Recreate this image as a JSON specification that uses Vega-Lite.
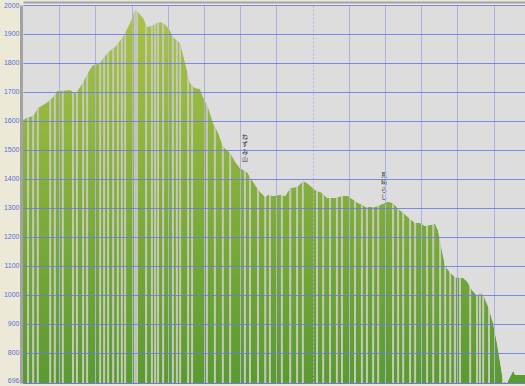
{
  "$schema": "https://vega.github.io/schema/vega-lite/v6.json",
  "width": 504,
  "height": 378,
  "autosize": {"type": "none"},
  "padding": {"left": 23, "top": 5, "right": 0, "bottom": 3},
  "background": "#ece9d8",
  "config": {"view": {"fill": "#dddddd", "stroke": "#6a7ae6", "strokeWidth": 1}},
  "datasets": {
    "profile": [
      {"km": 0, "elev": 1603}, {"km": 0.14, "elev": 1614}, {"km": 0.28, "elev": 1617}, {"km": 0.41, "elev": 1645},
      {"km": 0.55, "elev": 1655}, {"km": 0.69, "elev": 1666}, {"km": 0.83, "elev": 1683}, {"km": 0.94, "elev": 1703},
      {"km": 1.3, "elev": 1707}, {"km": 1.44, "elev": 1697}, {"km": 1.52, "elev": 1707}, {"km": 1.66, "elev": 1734},
      {"km": 1.85, "elev": 1779}, {"km": 1.93, "elev": 1793}, {"km": 2.1, "elev": 1797}, {"km": 2.18, "elev": 1810},
      {"km": 2.35, "elev": 1838}, {"km": 2.54, "elev": 1855}, {"km": 2.74, "elev": 1886}, {"km": 2.96, "elev": 1940},
      {"km": 3.09, "elev": 1983}, {"km": 3.18, "elev": 1976}, {"km": 3.32, "elev": 1955}, {"km": 3.43, "elev": 1924},
      {"km": 3.56, "elev": 1928}, {"km": 3.7, "elev": 1938}, {"km": 3.79, "elev": 1941}, {"km": 3.92, "elev": 1934},
      {"km": 4.06, "elev": 1914}, {"km": 4.14, "elev": 1890}, {"km": 4.34, "elev": 1869}, {"km": 4.48, "elev": 1800},
      {"km": 4.61, "elev": 1731}, {"km": 4.75, "elev": 1714}, {"km": 4.89, "elev": 1710}, {"km": 4.97, "elev": 1683},
      {"km": 5.11, "elev": 1648}, {"km": 5.25, "elev": 1593}, {"km": 5.39, "elev": 1559}, {"km": 5.53, "elev": 1510},
      {"km": 5.72, "elev": 1490}, {"km": 5.86, "elev": 1459}, {"km": 5.99, "elev": 1438}, {"km": 6.19, "elev": 1424},
      {"km": 6.27, "elev": 1407}, {"km": 6.41, "elev": 1379}, {"km": 6.55, "elev": 1355}, {"km": 6.69, "elev": 1338},
      {"km": 6.77, "elev": 1345}, {"km": 6.91, "elev": 1341}, {"km": 7.1, "elev": 1345}, {"km": 7.24, "elev": 1341},
      {"km": 7.38, "elev": 1369}, {"km": 7.57, "elev": 1372}, {"km": 7.74, "elev": 1393}, {"km": 7.87, "elev": 1383},
      {"km": 8.07, "elev": 1362}, {"km": 8.26, "elev": 1352}, {"km": 8.4, "elev": 1334}, {"km": 8.62, "elev": 1334},
      {"km": 8.81, "elev": 1341}, {"km": 8.98, "elev": 1341}, {"km": 9.12, "elev": 1328}, {"km": 9.25, "elev": 1317},
      {"km": 9.39, "elev": 1310}, {"km": 9.45, "elev": 1303}, {"km": 9.72, "elev": 1303}, {"km": 9.94, "elev": 1314},
      {"km": 10.08, "elev": 1321}, {"km": 10.22, "elev": 1317}, {"km": 10.36, "elev": 1297}, {"km": 10.5, "elev": 1283},
      {"km": 10.69, "elev": 1262}, {"km": 10.83, "elev": 1248}, {"km": 10.97, "elev": 1248}, {"km": 11.1, "elev": 1238},
      {"km": 11.24, "elev": 1241}, {"km": 11.38, "elev": 1245}, {"km": 11.46, "elev": 1224}, {"km": 11.55, "elev": 1165},
      {"km": 11.66, "elev": 1100}, {"km": 11.8, "elev": 1076}, {"km": 11.94, "elev": 1060}, {"km": 12.15, "elev": 1059},
      {"km": 12.27, "elev": 1045}, {"km": 12.4, "elev": 1017}, {"km": 12.54, "elev": 997}, {"km": 12.62, "elev": 1007},
      {"km": 12.71, "elev": 1000}, {"km": 12.85, "elev": 959}, {"km": 12.98, "elev": 903}, {"km": 13.09, "elev": 834},
      {"km": 13.18, "elev": 766}, {"km": 13.26, "elev": 700}, {"km": 13.37, "elev": 696}, {"km": 13.45, "elev": 717},
      {"km": 13.54, "elev": 738}, {"km": 13.59, "elev": 724}, {"km": 13.92, "elev": 724}
    ],
    "stripes": [
      {"km": 0.14}, {"km": 0.28}, {"km": 0.41}, {"km": 0.75}, {"km": 0.88}, {"km": 1.1}, {"km": 1.38}, {"km": 1.49},
      {"km": 1.66}, {"km": 1.77}, {"km": 2.13}, {"km": 2.24}, {"km": 2.35}, {"km": 2.49}, {"km": 2.62}, {"km": 2.73},
      {"km": 2.82}, {"km": 3.09}, {"km": 3.15}, {"km": 3.4}, {"km": 3.56}, {"km": 3.65}, {"km": 3.73}, {"km": 3.87},
      {"km": 4.14}, {"km": 4.25}, {"km": 4.34}, {"km": 4.56}, {"km": 4.67}, {"km": 5.08}, {"km": 5.3}, {"km": 5.52},
      {"km": 5.72}, {"km": 6.13}, {"km": 6.27}, {"km": 6.49}, {"km": 6.69}, {"km": 6.82}, {"km": 7.15}, {"km": 7.38},
      {"km": 7.57}, {"km": 7.73}, {"km": 8.12}, {"km": 8.29}, {"km": 8.48}, {"km": 8.67}, {"km": 8.81}, {"km": 9.17},
      {"km": 9.36}, {"km": 9.5}, {"km": 9.67}, {"km": 9.81}, {"km": 10.22}, {"km": 10.36}, {"km": 10.5}, {"km": 10.69},
      {"km": 10.83}, {"km": 11.16}, {"km": 11.33}, {"km": 11.52}, {"km": 11.66}, {"km": 11.8}, {"km": 11.93}, {"km": 12.07},
      {"km": 12.35}, {"km": 12.54}, {"km": 12.62}, {"km": 12.71}, {"km": 12.87}, {"km": 13.26}
    ],
    "labels": [
      {"km": 6.13, "elev": 1555, "label": "ね\nず\nみ\n山"},
      {"km": 9.97, "elev": 1424, "label": "見\n晴\nら\nし"}
    ]
  },
  "layer": [
    {
      "data": {"name": "profile"},
      "mark": {
        "type": "area",
        "color": {
          "gradient": "linear", "x1": 0, "y1": 0, "x2": 0, "y2": 1,
          "stops": [{"offset": 0, "color": "#abc246"}, {"offset": 1, "color": "#5a9a30"}]
        }
      },
      "encoding": {
        "x": {
          "field": "km", "type": "quantitative",
          "scale": {"domain": [0, 13.92], "nice": false},
          "axis": {
            "orient": "top", "offset": 3,
            "values": [1, 2, 3, 4, 5, 6, 7, 8, 9, 10, 11, 12, 13], "tickCount": 30,
            "grid": true, "gridColor": "#aab3de", "gridWidth": 1, "zindex": 1,
            "gridDash": {"condition": {"test": "datum.value === 8", "value": [2, 2]}, "value": []},
            "labels": false, "ticks": false,
            "domain": true, "domainColor": "#a3a3a3", "domainWidth": 2,
            "title": null
          }
        },
        "y": {
          "field": "elev", "type": "quantitative",
          "scale": {"domain": [696, 2000], "nice": false, "zero": false},
          "axis": {
            "values": [696, 800, 900, 1000, 1100, 1200, 1300, 1400, 1500, 1600, 1700, 1800, 1900, 2000], "tickCount": 30,
            "format": "d", "labelOverlap": false, "labelBound": false, "labelFlush": false,
            "labelBaseline": {"condition": {"test": "datum.value === 696", "value": "bottom"}, "value": "middle"},
            "grid": true, "gridColor": "#6a7ae6", "gridOpacity": 0.85, "zindex": 1,
            "offset": 2, "domain": true, "domainColor": "#a3a3a3", "domainWidth": 3,
            "ticks": false, "labelPadding": 2,
            "labelColor": "#5b6bd6", "labelFont": "Liberation Sans", "labelFontSize": 7,
            "title": null
          }
        },
        "y2": {"datum": 696}
      }
    },
    {
      "data": {"name": "stripes"},
      "mark": {"type": "rule", "color": "#c4c9ba", "strokeWidth": 2},
      "encoding": {
        "x": {"field": "km", "type": "quantitative"},
        "y": {"datum": 696},
        "y2": {"datum": 2000}
      }
    },
    {
      "data": {"name": "profile"},
      "mark": {"type": "area", "color": "#dddddd"},
      "encoding": {
        "x": {"field": "km", "type": "quantitative"},
        "y": {"field": "elev", "type": "quantitative"},
        "y2": {"datum": 2000}
      }
    },
    {
      "data": {"name": "labels"},
      "mark": {
        "type": "text", "lineBreak": "\n", "baseline": "top", "align": "center",
        "fontSize": 6, "lineHeight": 7.5, "font": "Noto Sans CJK JP", "color": "#333333"
      },
      "encoding": {
        "x": {"field": "km", "type": "quantitative"},
        "y": {"field": "elev", "type": "quantitative"},
        "text": {"field": "label"}
      }
    }
  ]
}
